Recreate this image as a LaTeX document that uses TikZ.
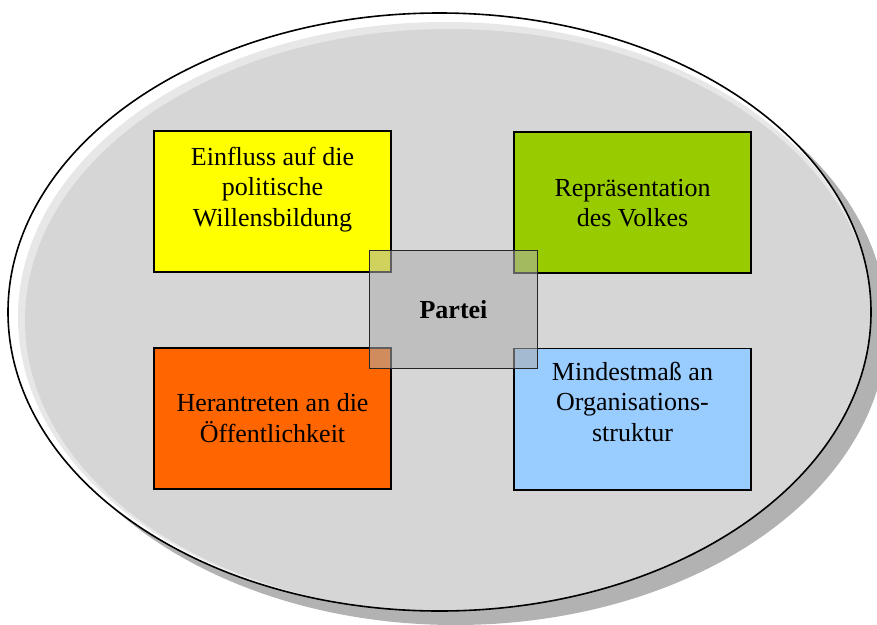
\documentclass[tikz,border=0pt]{standalone}
\usepackage{fontspec}
\setmainfont{Liberation Serif}
\usetikzlibrary{shapes.geometric}
\definecolor{cyellow}{HTML}{FFFF00}
\definecolor{cgreen}{HTML}{99CC00}
\definecolor{corange}{HTML}{FF6600}
\definecolor{cblue}{HTML}{99CCFF}
\definecolor{texgray}{gray}{0.84}
\definecolor{shadowgray}{gray}{0.70}
\definecolor{overgray}{gray}{0.68}
\newcommand{\txtfont}{\fontsize{26}{30.5}\selectfont}
\tikzset{
  colbox/.style={draw=black, line width=1.6pt, rectangle, inner sep=0pt,
    minimum width=237.4pt, minimum height=141.4pt},
  boxtext/.style={anchor=north, inner sep=0pt, align=center, font=\txtfont},
  centerbox/.style={draw=black!85, line width=1.3pt, rectangle, inner sep=0pt,
    fill=overgray, fill opacity=0.55, text opacity=1,
    minimum width=168pt, minimum height=118pt, font=\txtfont\bfseries}
}
\begin{document}
\begin{tikzpicture}[x=1pt, y=-1pt]
\useasboundingbox (0,0) rectangle (877,624);
% shadow
\fill[shadowgray] (455.5,326) ellipse [x radius=431.5, y radius=299];
% ellipse body
\node[ellipse, fill=white, minimum width=863pt, minimum height=598pt, inner sep=0pt] (oval) at (439.5,312) {};
\begin{scope}
  \clip (439.5,312) ellipse [x radius=431.5, y radius=299];
  \fill[texgray!60!white] (446,317) ellipse [x radius=428, y radius=295];
  \fill[texgray] (449,320.5) ellipse [x radius=424, y radius=291.5];
\end{scope}
\draw[line width=1.6pt] (oval.center) ellipse [x radius=431.5, y radius=299];
% coloured boxes
\node[colbox, fill=cyellow] (b1) at (272.5,201.5) {};
\node[colbox, fill=cgreen]  (b2) at (632.5,202.5) {};
\node[colbox, fill=corange] (b3) at (272.5,418.5) {};
\node[colbox, fill=cblue]   (b4) at (632.5,419) {};
% texts
\node[boxtext] (t1) at (272.5,143.65) {\strut Einfluss auf die\\\strut politische\\\strut Willensbildung};
\node[boxtext] (t2) at (632.5,174.65) {\strut Repräsentation\\\strut des Volkes};
\node[boxtext] (t3) at (272.5,390.35) {\strut Herantreten an die\\\strut Öffentlichkeit};
\node[boxtext] (t4) at (632.5,358.65) {\strut Mindestmaß an\\\strut Organisations-\\\strut struktur};
% centre box
\node[centerbox] (p) at (453.5,309.5) {Partei};
\end{tikzpicture}
\end{document}
